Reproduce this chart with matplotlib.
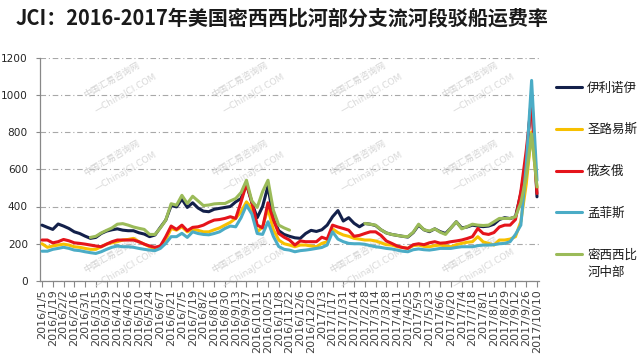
import numpy as np
import matplotlib.pyplot as plt

plt.rcParams['font.family'] = ['Noto Sans CJK SC', 'DejaVu Sans']

title = 'JCI：2016-2017年美国密西西比河部分支流河段驳船运费率'

# biweekly axis labels, data is weekly
tick_labels = [
    '2016/1/5', '2016/1/19', '2016/2/2', '2016/2/16', '2016/3/1', '2016/3/15',
    '2016/3/29', '2016/4/12', '2016/4/26', '2016/5/10', '2016/5/24', '2016/6/7',
    '2016/6/21', '2016/7/5', '2016/7/19', '2016/8/2', '2016/8/16', '2016/8/30',
    '2016/9/13', '2016/9/27', '2016/10/11', '2016/10/25', '2016/11/8', '2016/11/22',
    '2016/12/6', '2016/12/20', '2017/1/3', '2017/1/17', '2017/1/31', '2017/2/14',
    '2017/2/28', '2017/3/14', '2017/3/28', '2017/4/11', '2017/4/25', '2017/5/9',
    '2017/5/23', '2017/6/6', '2017/6/20', '2017/7/4', '2017/7/18', '2017/8/1',
    '2017/8/15', '2017/8/29', '2017/9/12', '2017/9/26', '2017/10/10',
]

illinois = [
    300, 288, 277, 306, 295, 282, 264, 255, 241, 229,
    234, 255, 268, 275, 280, 273, 270, 270, 259, 252,
    238, 247, 288, 327, 405, 398, 440, 395, 420, 392,
    375, 372, 385, 390, 395, 400, 425, 443, 520, 420,
    340, 400, 510, 330, 270, 250, 240, 232, 229, 255,
    272, 266, 275, 300, 345, 378, 322, 340, 310, 291,
    309, 305, 298, 275, 258, 250, 245, 240, 236, 260,
    300, 275, 265, 280, 265, 255, 285, 318, 285, 290,
    300, 295, 292, 295, 305, 330, 340, 335, 345, 470,
    650, 1000, 452,
]

st_louis = [
    200, 181, 188, 193, 198, 193, 184, 181, 175, 170,
    170, 184, 198, 205, 211, 220, 223, 229, 211, 198,
    184, 172, 181, 220, 282, 273, 291, 264, 277, 272,
    264, 264, 275, 285, 300, 315, 336, 372, 425, 390,
    264, 290, 390, 275, 220, 200, 193, 184, 193, 193,
    188, 184, 202, 211, 280, 260, 247, 240, 229, 225,
    220, 220, 215, 205, 195, 193, 184, 180, 175, 190,
    193, 186, 184, 190, 193, 188, 184, 195, 202, 208,
    211, 238, 210, 202, 193, 220, 220, 225, 238, 320,
    520, 800, 500,
]

ohio = [
    220, 220, 205, 211, 223, 216, 205, 202, 198, 193,
    188, 184, 198, 211, 220, 220, 220, 220, 211, 198,
    188, 181, 188, 238, 295, 277, 300, 270, 288, 291,
    300, 315, 327, 330, 336, 345, 336, 425, 523, 425,
    300, 285, 420, 330, 255, 235, 220, 193, 215, 211,
    211, 211, 235, 225, 300, 290, 282, 273, 240, 245,
    255, 264, 264, 245, 215, 202, 188, 180, 175, 195,
    200, 195, 205, 211, 203, 205, 211, 215, 220, 228,
    238, 282, 255, 250, 260, 290, 300, 300, 330, 480,
    700, 960, 470,
]

memphis = [
    160, 160, 170, 175, 181, 175, 166, 163, 157, 152,
    148, 157, 170, 181, 188, 184, 184, 181, 175, 170,
    166, 163, 175, 202, 238, 238, 256, 234, 264, 255,
    250, 248, 255, 264, 282, 295, 291, 340, 407, 360,
    255, 250, 318, 240, 185, 170, 166, 157, 163, 166,
    170, 175, 180, 193, 264, 225, 211, 202, 200, 200,
    197, 190, 184, 180, 175, 172, 166, 160, 157, 168,
    172, 168, 166, 170, 175, 175, 175, 180, 184, 184,
    184, 190, 193, 193, 195, 200, 202, 211, 250, 300,
    620, 1077, 540,
]

nan = np.nan
mid_miss = [
    nan, nan, nan, nan, nan, nan, nan, nan, nan, 234,
    240, 258, 272, 285, 305, 308, 300, 290, 283, 277,
    250, 250, 285, 327, 415, 407, 460, 416, 455, 430,
    405, 408, 414, 416, 416, 430, 443, 475, 541, 430,
    395, 480, 541, 380, 300, 285, 273, nan, nan, nan,
    nan, nan, nan, nan, nan, nan, nan, nan, nan, nan,
    309, 305, 300, 275, 258, 250, 245, 240, 238, 262,
    305, 275, 268, 280, 262, 250, 285, 318, 280, 292,
    305, 300, 298, 300, 318, 336, 336, 336, 345, 420,
    560, 790, 505,
]

series = [
    ('伊利诺伊', illinois, '#13204A'),
    ('圣路易斯', st_louis, '#F7C000'),
    ('俄亥俄', ohio, '#E5141B'),
    ('孟菲斯', memphis, '#4BACC6'),
    ('密西西比', mid_miss, '#9BBB59'),
]

W, H = 640, 356
fig = plt.figure(figsize=(6.4, 3.56), dpi=100)
fig.patch.set_facecolor('white')
ax = fig.add_axes([40.4 / W, 1 - 281 / H, (538.6 - 40.4) / W, (281 - 57.5) / H])

weeks = np.arange(len(illinois))
for name, vals, color in series:
    ax.plot(weeks, vals, color=color, lw=2.2, label=name,
            solid_joinstyle='round', solid_capstyle='round', zorder=3)

ax.set_xlim(-0.3, 92.3)
ax.set_ylim(0, 1200)
ax.set_yticks(range(0, 1201, 200))
ax.set_xticks(weeks[::2])
ax.set_xticklabels(tick_labels, rotation=90, fontsize=8,
                   family='DejaVu Sans', color='#404040')
for lab in ax.get_yticklabels():
    lab.set_family('DejaVu Sans')
    lab.set_fontsize(7.6)
    lab.set_color('#262626')

ax.yaxis.grid(True, linestyle=(0, (5, 2.5, 1, 2.5)), color='#a8a8a8', lw=0.8)
ax.set_axisbelow(True)
for s in ['top', 'right']:
    ax.spines[s].set_visible(False)
for s in ['left', 'bottom']:
    ax.spines[s].set_color('#888888')
    ax.spines[s].set_linewidth(0.9)
ax.tick_params(axis='x', length=4, color='#888888', pad=2)
ax.tick_params(axis='y', length=3, color='#888888', pad=6)

# faint site watermarks
wm_x = [112, 240, 358, 470]
wm_y = [80, 158, 255]
for yy in wm_y:
    for xx in wm_x:
        ax.text(xx / W, 1 - yy / H, '中国汇易咨询网', transform=fig.transFigure,
                rotation=30, fontsize=6.5, color='#d4d4d4', ha='center',
                va='center', zorder=1, clip_on=False)
        ax.text((xx + 14) / W, 1 - (yy + 14) / H, '—ChinaJCI.COM',
                transform=fig.transFigure, rotation=30, fontsize=6.5,
                family='DejaVu Sans', color='#d8d8d8', ha='center',
                va='center', zorder=1, clip_on=False)

fig.text(16 / W, 1 - 18 / H, title, fontsize=14.4, fontweight='bold',
         color='#1a1a1a', ha='left', va='center')

leg = ax.legend(loc='upper left', bbox_to_anchor=(556 / W, 1 - 81.5 / H),
                bbox_transform=fig.transFigure, frameon=False, fontsize=9,
                borderpad=0, borderaxespad=0, handlelength=2.1,
                handletextpad=0.4, labelspacing=2.3)
for t in leg.get_texts():
    t.set_color('#1a1a1a')

fig.canvas.draw()
bb = leg.get_texts()[-1].get_window_extent()
fig.text(bb.x0 / W, ((bb.y0 + bb.y1) / 2 - 17.7) / H, '河中部', fontsize=9,
         color='#1a1a1a', ha='left', va='center')

fig.savefig('out.png', dpi=100, facecolor='white')
